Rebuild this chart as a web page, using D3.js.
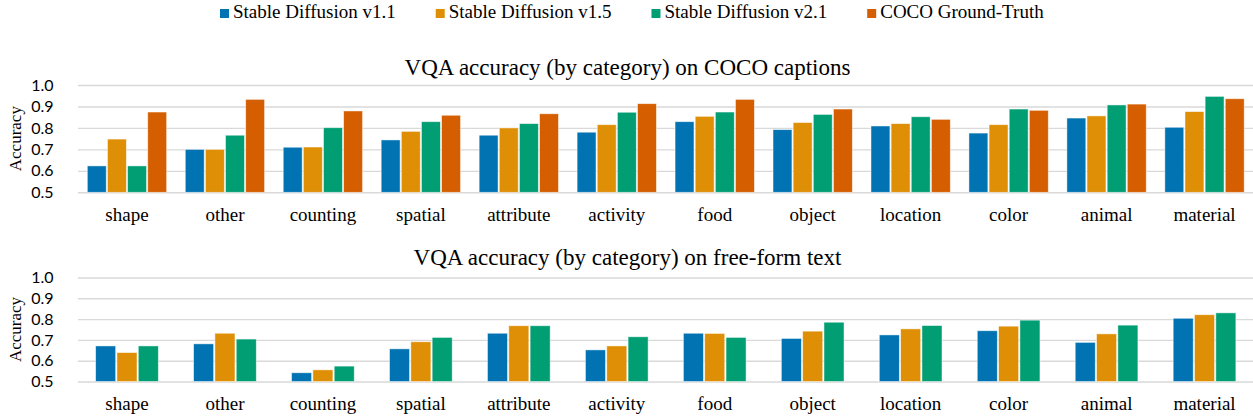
<!DOCTYPE html>
<html>
<head>
<meta charset="utf-8">
<script src="https://cdn.jsdelivr.net/npm/d3@7"></script>
<style>
  body { margin: 0; background: #fff; }
  .tick text { fill: #000; }
</style>
</head>
<body>
<svg id="chart" width="1253" height="419"></svg>
<script>
const categories = ['shape', 'other', 'counting', 'spatial', 'attribute', 'activity', 'food', 'object', 'location', 'color', 'animal', 'material']
const seriesNames = ['Stable Diffusion v1.1', 'Stable Diffusion v1.5', 'Stable Diffusion v2.1', 'COCO Ground-Truth']
const yTicks = [0.5, 0.6, 0.7, 0.8, 0.9, 1.0]

// COCO captions
const sd11Coco = [0.623, 0.700, 0.710, 0.744, 0.766, 0.780, 0.829, 0.792, 0.809, 0.776, 0.846, 0.803]
const sd15Coco = [0.748, 0.700, 0.711, 0.784, 0.800, 0.815, 0.854, 0.825, 0.820, 0.815, 0.856, 0.876]
const sd21Coco = [0.623, 0.766, 0.801, 0.829, 0.820, 0.873, 0.874, 0.863, 0.852, 0.888, 0.907, 0.947]
const gtCoco   = [0.874, 0.933, 0.879, 0.859, 0.866, 0.913, 0.933, 0.888, 0.840, 0.882, 0.911, 0.936]

// free-form text
const sd11Free = [0.671, 0.681, 0.542, 0.657, 0.732, 0.652, 0.732, 0.707, 0.724, 0.744, 0.688, 0.804]
const sd15Free = [0.639, 0.732, 0.556, 0.691, 0.768, 0.671, 0.731, 0.742, 0.753, 0.766, 0.729, 0.821]
const sd21Free = [0.671, 0.704, 0.574, 0.712, 0.768, 0.715, 0.712, 0.785, 0.769, 0.795, 0.771, 0.830]

const palette = ['#0173B2', '#DE8F05', '#029E73', '#D55E00']
const serif = '"Liberation Serif", "Times New Roman", serif'
const sans = 'Lato, "Noto Sans", sans-serif'

const svg = d3.select('#chart')
const plotLeft = 78
const plotRight = 1253.5

function drawLegend() {
    const legend = svg.append('g').attr('class', 'legend')
    let x = 220
    seriesNames.forEach((name, i) => {
        legend.append('rect')
            .attr('x', x)
            .attr('y', 9)
            .attr('width', 9)
            .attr('height', 9)
            .attr('fill', palette[i])
        const label = legend.append('text')
            .attr('x', x + 13)
            .attr('y', 18)
            .style('font-family', serif)
            .style('font-size', '19px')
            .text(name)
        x += 13 + label.node().getComputedTextLength() + 40
    })
}

function drawPanel({title, series, top, bottom, titleY, groupPadding}) {
    const g = svg.append('g')

    const x0 = d3.scaleBand()
        .domain(categories)
        .range([plotLeft, plotRight])
        .paddingInner(groupPadding)
        .paddingOuter(groupPadding / 2)

    const x1 = d3.scaleBand()
        .domain(d3.range(series.length))
        .range([0, x0.bandwidth()])
        .paddingInner(0.06)

    const y = d3.scaleLinear()
        .domain([0.5, 1.0])
        .range([bottom, top])

    // grid + tick labels
    const yAxis = g.append('g')
        .attr('transform', `translate(${plotLeft},0)`)
        .call(d3.axisLeft(y)
            .tickValues(yTicks)
            .tickFormat(d3.format('.1f'))
            .tickSizeInner(-(plotRight - plotLeft))
            .tickSizeOuter(0)
            .tickPadding(24.5))
    yAxis.select('.domain').remove()
    yAxis.selectAll('.tick line')
        .attr('stroke', '#d9d9d9')
        .attr('stroke-width', 1.4)
    yAxis.selectAll('.tick text')
        .style('font-family', sans)
        .style('font-size', '16px')

    const xAxis = g.append('g')
        .attr('transform', `translate(0,${bottom})`)
        .call(d3.axisBottom(x0).tickSize(0).tickPadding(15.5))
    xAxis.select('.domain').remove()
    xAxis.selectAll('.tick text')
        .style('font-family', serif)
        .style('font-size', '19px')

    const groups = g.selectAll('.group')
        .data(categories)
        .enter()
        .append('g')
        .attr('class', 'group')
        .attr('transform', d => `translate(${x0(d)},0)`)

    groups.selectAll('rect')
        .data((d, ci) => series.map((values, si) => ({si, value: values[ci]})))
        .enter()
        .append('rect')
        .attr('x', d => x1(d.si))
        .attr('y', d => y(d.value))
        .attr('width', x1.bandwidth())
        .attr('height', d => y(0.5) - y(d.value))
        .attr('fill', d => palette[d.si])
        .attr('stroke', '#fff')
        .attr('stroke-opacity', 0.6)
        .attr('stroke-width', 0.8)

    g.append('text')
        .attr('x', 627.5)
        .attr('y', titleY)
        .attr('text-anchor', 'middle')
        .style('font-family', serif)
        .style('font-size', '23px')
        .text(title)

    g.append('text')
        .attr('transform', `translate(21,${(top + bottom) / 2}) rotate(-90)`)
        .attr('text-anchor', 'middle')
        .style('font-family', serif)
        .style('font-size', '17px')
        .text('Accuracy')
}

drawLegend()

drawPanel({
    title: 'VQA accuracy (by category) on COCO captions',
    series: [sd11Coco, sd15Coco, sd21Coco, gtCoco],
    top: 85,
    bottom: 192.3,
    titleY: 75,
    groupPadding: 0.19
})

drawPanel({
    title: 'VQA accuracy (by category) on free-form text',
    series: [sd11Free, sd15Free, sd21Free],
    top: 277.5,
    bottom: 381.5,
    titleY: 265,
    groupPadding: 0.36
})
</script>
</body>
</html>
